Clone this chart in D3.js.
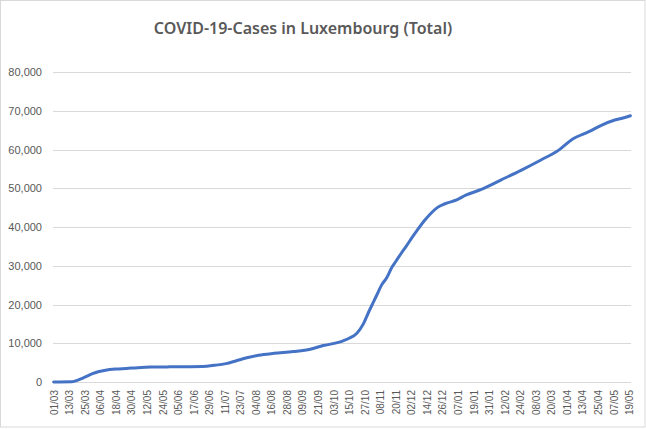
<!DOCTYPE html>
<html>
<head>
<meta charset="utf-8">
<script src="https://cdn.jsdelivr.net/npm/d3@7"></script>
<style>
  body { margin: 0; background: #fff; }
</style>
</head>
<body>
<div class="chart"></div>
<script>
// total cases
var dates = ["2020-03-01","2020-03-15","2020-03-18","2020-03-22","2020-03-26","2020-03-31",
  "2020-04-05","2020-04-10","2020-04-18","2020-04-26","2020-05-05","2020-05-15","2020-05-28",
  "2020-06-09","2020-06-24","2020-07-03","2020-07-12","2020-07-20","2020-07-28","2020-08-06",
  "2020-08-18","2020-09-02","2020-09-15","2020-09-25","2020-10-06","2020-10-15","2020-10-21",
  "2020-10-26","2020-10-30","2020-11-03","2020-11-06","2020-11-09","2020-11-13","2020-11-17",
  "2020-11-20","2020-11-24","2020-11-28","2020-12-03","2020-12-07","2020-12-12","2020-12-17",
  "2020-12-22","2020-12-28","2021-01-06","2021-01-13","2021-01-25","2021-02-09","2021-02-25",
  "2021-03-12","2021-03-26","2021-04-05","2021-04-18","2021-04-28","2021-05-08","2021-05-15",
  "2021-05-20"];
var cases = [0,50,300,800,1400,2150,
  2700,3050,3350,3500,3700,3850,3900,
  3950,4000,4300,4750,5500,6250,6900,
  7400,7850,8450,9400,10150,11300,12600,
  15000,18000,20800,22900,25000,26900,29600,
  31100,33100,35000,37500,39400,41600,43500,
  45000,46000,47000,48200,49700,52100,54700,
  57300,59900,62600,64600,66300,67600,68200,
  68700];

var tickDates = ["2020-03-01","2020-03-13","2020-03-25","2020-04-06","2020-04-18","2020-04-30",
  "2020-05-12","2020-05-24","2020-06-05","2020-06-17","2020-06-29","2020-07-11","2020-07-23",
  "2020-08-04","2020-08-16","2020-08-28","2020-09-09","2020-09-21","2020-10-03","2020-10-15",
  "2020-10-27","2020-11-08","2020-11-20","2020-12-02","2020-12-14","2020-12-26","2021-01-07",
  "2021-01-19","2021-01-31","2021-02-12","2021-02-24","2021-03-08","2021-03-20","2021-04-01",
  "2021-04-13","2021-04-25","2021-05-07","2021-05-19"];
var yTicks = [0,10000,20000,30000,40000,50000,60000,70000,80000];

var W = 646, H = 429;
var margin = {top: 72, right: 15, bottom: 47, left: 53},
  width = W - margin.left - margin.right,
  height = H - margin.top - margin.bottom;

var parse = d3.utcParse("%Y-%m-%d");
var data = dates.map(function (d, i) { return {date: parse(d), value: cases[i]}; });

var root = d3.select(".chart")
  .append("svg")
  .attr("width", W)
  .attr("height", H);

// chart area border
root.append("rect")
  .attr("x", 0.5).attr("y", 0.5)
  .attr("width", W - 1.5).attr("height", H - 2.5)
  .attr("fill", "#fff")
  .attr("stroke", "#d9d9d9");

root.append("text")
  .attr("x", 303)
  .attr("y", 34)
  .attr("text-anchor", "middle")
  .style("font-family", "'Noto Sans', sans-serif")
  .style("font-size", "16px")
  .style("font-weight", 600)
  .style("fill", "#595959")
  .text("COVID-19-Cases in Luxembourg (Total)");

var svg = root.append("g")
  .attr("transform", "translate(" + margin.left + "," + margin.top + ")");

// one category per day, so pad half a day on each side
var x = d3.scaleUtc()
  .domain([d3.utcHour.offset(data[0].date, -12), d3.utcHour.offset(data[data.length - 1].date, 12)])
  .range([0, width]);

var y = d3.scaleLinear()
  .domain([0, 80000])
  .range([height, 0]);

// gridlines
svg.selectAll(".grid")
  .data(yTicks)
  .enter()
  .append("line")
  .attr("class", "grid")
  .attr("x1", 0)
  .attr("x2", width)
  .attr("y1", function (d) { return Math.round(y(d)) + 0.5; })
  .attr("y2", function (d) { return Math.round(y(d)) + 0.5; })
  .attr("stroke", "#d9d9d9")
  .attr("stroke-width", 1);

var axisY = svg.append("g")
  .call(d3.axisLeft(y).tickValues(yTicks).tickFormat(d3.format(",")).tickSize(0).tickPadding(11));
axisY.select(".domain").remove();
axisY.selectAll("text")
  .style("font-family", "'Liberation Sans', Arial, sans-serif")
  .style("font-size", "11px")
  .style("fill", "#595959");

var axisX = svg.append("g")
  .attr("transform", "translate(0," + height + ")")
  .call(d3.axisBottom(x).tickValues(tickDates.map(parse)).tickFormat(d3.utcFormat("%d/%m")).tickSize(0));
axisX.select(".domain").remove();
axisX.selectAll("text")
  .attr("transform", "rotate(-90)")
  .attr("x", -8)
  .attr("y", 0)
  .attr("dy", "0.35em")
  .style("text-anchor", "end")
  .style("font-family", "'Liberation Sans', Arial, sans-serif")
  .style("font-size", "10px")
  .style("fill", "#595959");

var line = d3.line()
  .x(function (d) { return x(d.date); })
  .y(function (d) { return y(d.value); })
  .curve(d3.curveMonotoneX);

svg.append("path")
  .datum(data)
  .attr("d", line)
  .style("fill", "none")
  .style("stroke", "#4472c4")
  .style("stroke-width", 3)
  .style("stroke-linejoin", "round")
  .style("stroke-linecap", "round");
</script>
</body>
</html>
